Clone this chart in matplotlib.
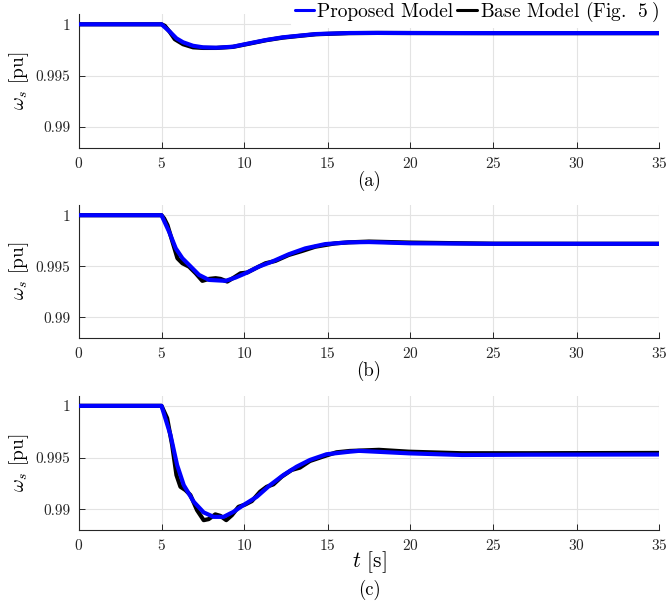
import matplotlib
matplotlib.use("Agg")
import matplotlib.pyplot as plt

plt.rcParams['font.family'] = ['cmr10', 'DejaVu Serif']
plt.rcParams['mathtext.fontset'] = 'cm'
plt.rcParams['axes.formatter.use_mathtext'] = True

# ---------------- data ----------------
# Panel (a)
t_a_prop = [0, 5.0, 5.5, 5.9, 6.3, 6.9, 7.5, 8.3, 9.3, 10.3, 11.3, 12.3, 13.3, 14.3, 16.3, 18, 20, 25, 30, 35]
w_a_prop = [1.0, 1.0, 0.99928, 0.99863, 0.99825, 0.99791, 0.99776, 0.99772, 0.99782, 0.99815, 0.99847, 0.99873,
            0.99889, 0.99905, 0.99915, 0.99916, 0.99915, 0.99914, 0.99914, 0.99914]
t_a_base = [0, 5.0, 5.2, 5.5, 5.8, 6.3, 6.9, 7.5, 8.3, 9.3, 10.3, 11.3, 12.3, 13.3, 14.3, 16.3, 18, 20, 25, 30, 35]
w_a_base = [1.0, 1.0, 0.99985, 0.99925, 0.99855, 0.99806, 0.99776, 0.99770, 0.99770, 0.99780, 0.99812, 0.99845,
            0.99870, 0.99887, 0.99903, 0.99914, 0.99916, 0.99915, 0.99914, 0.99914, 0.99914]

# Panel (b)
t_b_prop = [0, 5.0, 5.46, 5.86, 6.26, 6.66, 7.26, 7.86, 8.86, 9.46, 10.06, 10.86, 11.66, 12.66, 13.66, 14.86,
            16.26, 17.5, 20, 25, 30, 35]
w_b_prop = [1.0, 1.0, 0.99837, 0.99675, 0.99578, 0.99513, 0.99415, 0.99366, 0.99357, 0.99389, 0.99431, 0.99496,
            0.99545, 0.99617, 0.99675, 0.99717, 0.99734, 0.99737, 0.99725, 0.99720, 0.99720, 0.99720]
t_b_base = [0, 5.0, 5.16, 5.36, 5.66, 5.96, 6.26, 6.66, 7.06, 7.46, 7.86, 8.26, 8.56, 8.96, 9.36, 9.76, 10.16,
            10.66, 11.26, 11.86, 12.66, 13.46, 14.26, 15.46, 16.26, 17.5, 20, 25, 30, 35]
w_b_base = [1.0, 1.0, 0.99968, 0.99903, 0.99740, 0.99578, 0.99529, 0.99496, 0.99431, 0.99357, 0.99376, 0.99383,
            0.99376, 0.99350, 0.99389, 0.99431, 0.99438, 0.99480, 0.99529, 0.99552, 0.99610, 0.99649, 0.99691,
            0.99724, 0.99734, 0.99742, 0.99732, 0.99721, 0.99720, 0.99720]

# Panel (c)
t_c_prop = [0, 5.0, 5.54, 5.94, 6.34, 6.94, 7.54, 8.14, 8.74, 9.34, 9.94, 10.74, 11.54, 12.34, 13.14, 13.94,
            14.94, 16.34, 16.9, 19.9, 23.1, 27.1, 35]
w_c_prop = [1.0, 1.0, 0.99719, 0.99428, 0.99234, 0.99073, 0.98970, 0.98927, 0.98927, 0.98976, 0.99041, 0.99121,
            0.99234, 0.99331, 0.99412, 0.99477, 0.99532, 0.99557, 0.99565, 0.99541, 0.99525, 0.99528, 0.99530]
t_c_base = [0, 5.0, 5.34, 5.64, 5.9, 6.14, 6.44, 6.74, 7.14, 7.54, 7.84, 8.24, 8.54, 8.9, 9.24, 9.64, 10.04,
            10.44, 10.94, 11.34, 11.74, 12.24, 12.84, 13.34, 13.94, 14.74, 15.54, 16.34, 18.1, 19.9, 23.1, 27.1, 35]
w_c_base = [1.0, 1.0, 0.99881, 0.99622, 0.99331, 0.99218, 0.99186, 0.99138, 0.98992, 0.98895, 0.98905, 0.98951,
            0.98937, 0.98895, 0.98943, 0.99024, 0.99046, 0.99079, 0.99170, 0.99218, 0.99241, 0.99315, 0.99380,
            0.99403, 0.99467, 0.99510, 0.99551, 0.99564, 0.99575, 0.99557, 0.99542, 0.99542, 0.99545]

x_ticks = [0, 5, 10, 15, 20, 25, 30, 35]
y_ticks = [0.99, 0.995, 1.0]
y_tick_labels = ['0.99', '0.995', '1']
panel_labels = ['(a)', '(b)', '(c)']
legend_labels = ['Proposed Model', r'Base Model (Fig. $\;5\;$)']

# ---------------- figure ----------------
fig = plt.figure(figsize=(6.68, 6.10), dpi=100)

left = 78.5 / 668
right_px = 659.5
width = (right_px - 78.5) / 668
boxes = [
    (left, (610 - 147.7) / 610, width, 133.7 / 610),
    (left, (610 - 337.7) / 610, width, 132.7 / 610),
    (left, (610 - 530.0) / 610, width, 134.5 / 610),
]

data = [
    (t_a_prop, w_a_prop, t_a_base, w_a_base),
    (t_b_prop, w_b_prop, t_b_base, w_b_base),
    (t_c_prop, w_c_prop, t_c_base, w_c_base),
]

blue = '#0000FF'
axes = []
for i, (box, (tp, wp, tb, wb)) in enumerate(zip(boxes, data)):
    ax = fig.add_axes(box)
    lb, = ax.plot(tb, wb, color='black', lw=3.0, solid_joinstyle='round', solid_capstyle='round', zorder=3)
    lp, = ax.plot(tp, wp, color=blue, lw=3.0, solid_joinstyle='round', solid_capstyle='round', zorder=4)
    ax.set_xlim(0, 35)
    ax.set_ylim(0.988, 1.001)
    ax.set_xticks(x_ticks)
    ax.set_yticks(y_ticks)
    ax.set_yticklabels(y_tick_labels)
    ax.grid(True, color='#e3e3e3', lw=0.8)
    ax.set_axisbelow(True)
    for s in ['top', 'right']:
        ax.spines[s].set_visible(False)
    for s in ['left', 'bottom']:
        ax.spines[s].set_color('#262626')
        ax.spines[s].set_linewidth(0.8)
    ax.tick_params(direction='in', length=4, width=0.7, colors='#262626', labelsize=11,
                   labelcolor='#262626', pad=6)
    ax.set_ylabel(r'$\omega_s$ [pu]', fontsize=14, labelpad=3)
    if i < 2:
        ax.set_xlabel(panel_labels[i], fontsize=13.5, labelpad=0)
    else:
        ax.set_xlabel(r'$t$ [s]', fontsize=15.5, labelpad=-3)
        fig.text((78.5 + right_px) / 2 / 668, 1 - 590 / 610, panel_labels[i], fontsize=13.5,
                 ha='center', va='center')
    axes.append((ax, lp, lb))

ax0, lp0, lb0 = axes[0]
leg = fig.legend([lp0, lb0], legend_labels, loc='upper right', bbox_to_anchor=(0.992, 1.006),
                 ncol=2, fontsize=14, frameon=True, handlelength=1.0, handletextpad=0.15,
                 columnspacing=0.2, borderpad=0.2, borderaxespad=0.0)
leg.get_frame().set_edgecolor('none')
leg.get_frame().set_facecolor('white')
leg.get_frame().set_alpha(1.0)
for line in leg.get_lines():
    line.set_linewidth(2.2)

fig.savefig('out.png', dpi=100)
